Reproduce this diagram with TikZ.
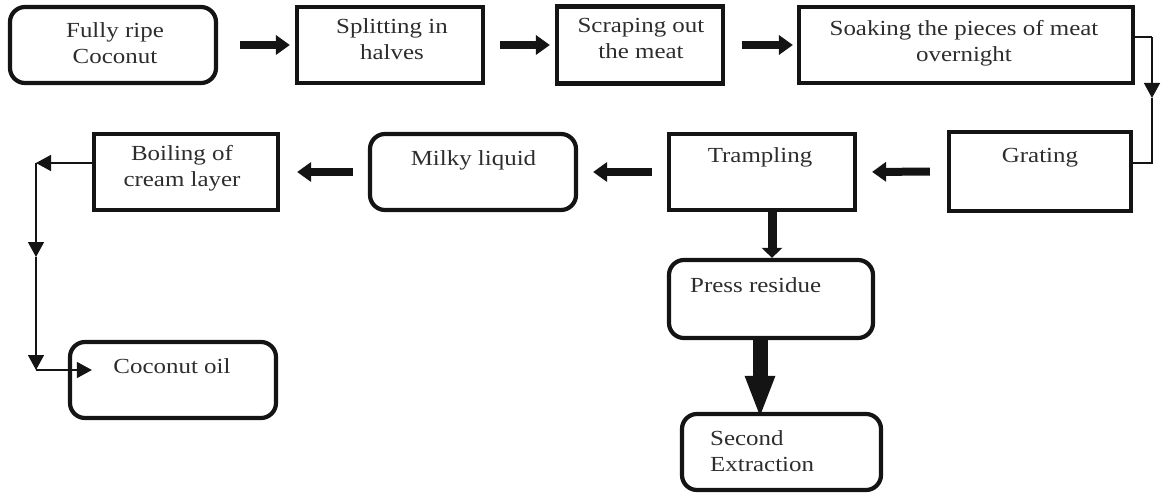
\documentclass[tikz,border=0pt]{standalone}
\usepackage{fontspec}
\setmainfont[FakeStretch=1.16]{Liberation Serif}
\usepackage{tikz}
\usetikzlibrary{positioning, arrows.meta, calc}
\definecolor{FlowInk}{RGB}{20,20,20}
\definecolor{FlowText}{RGB}{45,45,45}

\tikzset{
  procbox/.style={draw=FlowInk, line width=4.2pt, inner sep=0pt},
  roundbox/.style={procbox, rounded corners=15pt},
  boxtext/.style={font=\fontsize{21.5}{26}\selectfont, text=FlowText,
                  inner sep=0pt, align=center, anchor=north},
  flowarrow/.style={FlowInk, line width=8pt, -{Triangle[width=19pt,length=14pt]}},
  thinline/.style={FlowInk, line width=1.5pt},
  thinarrow/.style={thinline, -{Triangle[width=16pt,length=15pt]}}
}

\begin{document}
\begin{tikzpicture}[x=1pt, y=-1pt]
  \useasboundingbox (0,0) rectangle (1163,500);

  % ---- Row 1: preparing the nut ----
  \node[roundbox, minimum width=206pt, minimum height=76pt] (ripe) at (113,45) {};
  \node[procbox, minimum width=186pt, minimum height=76pt] (split) at (390,45) {};
  \node[procbox, minimum width=166pt, minimum height=77pt] (scrape) at (640,45) {};
  \node[procbox, minimum width=334pt, minimum height=76pt] (soak) at (966,45) {};
  \node[boxtext] (ripe-t) at (115,22.5) {Fully ripe\\Coconut};
  \node[boxtext] (split-t) at (392,18.5) {Splitting in\\halves};
  \node[boxtext] (scrape-t) at (641,18.5) {Scraping out\\the meat};
  \node[boxtext] (soak-t) at (964,20.5) {Soaking the pieces of meat\\overnight};

  % ---- Row 2: extracting the cream ----
  \node[procbox, minimum width=182pt, minimum height=79pt] (grate) at (1040,171.5) {};
  \node[procbox, minimum width=186pt, minimum height=76pt] (tramp) at (762,172) {};
  \node[roundbox, minimum width=206pt, minimum height=76pt] (milky) at (473,172) {};
  \node[procbox, minimum width=184pt, minimum height=76pt] (boil) at (186,172) {};
  \node[boxtext] (grate-t) at (1040,148.5) {Grating};
  \node[boxtext] (tramp-t) at (760,147.5) {Trampling};
  \node[boxtext] (milky-t) at (473.5,150.5) {Milky liquid};
  \node[boxtext] (boil-t) at (182,145.5) {Boiling of\\cream layer};

  % ---- Outputs ----
  \node[roundbox, minimum width=206pt, minimum height=76pt] (oil) at (173,380) {};
  \node[roundbox, minimum width=204pt, minimum height=78pt] (press) at (771,299) {};
  \node[roundbox, minimum width=199pt, minimum height=76pt] (second) at (781.5,452) {};
  \node[boxtext] (oil-t) at (172,358.5) {Coconut oil};
  \node[boxtext, anchor=north west] (press-t) at (690,277.5) {Press residue};
  \node[boxtext, anchor=north west, align=left] (second-t) at (710,430.5) {Second\\Extraction};

  % thick process arrows
  \foreach \a/\b/\s/\e in {ripe/split/22/5, split/scrape/15/5, scrape/soak/17/4} {
    \draw[flowarrow, shorten <=\s pt, shorten >=\e pt] (\a.east) -- (\b.west);
  }
  \foreach \a/\b/\s/\e in {grate/tramp/17/15, tramp/milky/15/15, milky/boil/15/17} {
    \draw[flowarrow, shorten <=\s pt, shorten >=\e pt] (\a.west) -- (\b.east);
  }
  \draw[FlowInk, line width=9pt, -{Triangle[width=20pt,length=10pt]}]
    ([xshift=10pt]tramp.south) -- ([xshift=10pt]tramp.south |- press.north);
  \draw[FlowInk, line width=15pt, -{Triangle[width=27pt,length=43pt]}, shorten >=-7pt]
    ([xshift=-11pt]press.south) -- ([xshift=-11pt]press.south |- second.north);

  % thin connectors
  \coordinate (sr1) at (1152,37);
  \coordinate (sr2) at (1152,98);
  \draw[thinline] ([yshift=8pt]soak.east) -- (sr1);
  \draw[thinarrow] (sr1) -- (sr2);
  \draw[thinline] (sr2) |- ([yshift=8.5pt]grate.east);

  \coordinate (bl1) at (36,163);
  \coordinate (bl2) at (36,257);
  \coordinate (bl3) at (36,370);
  \draw[thinarrow] ([yshift=9pt]boil.west) -- (bl1);
  \draw[thinarrow] (bl1) -- (bl2);
  \draw[thinarrow] (bl2) -- (bl3);
  \draw[thinarrow, shorten >=-24pt] (bl3) -- (bl3 -| oil.west);
\end{tikzpicture}
\end{document}
